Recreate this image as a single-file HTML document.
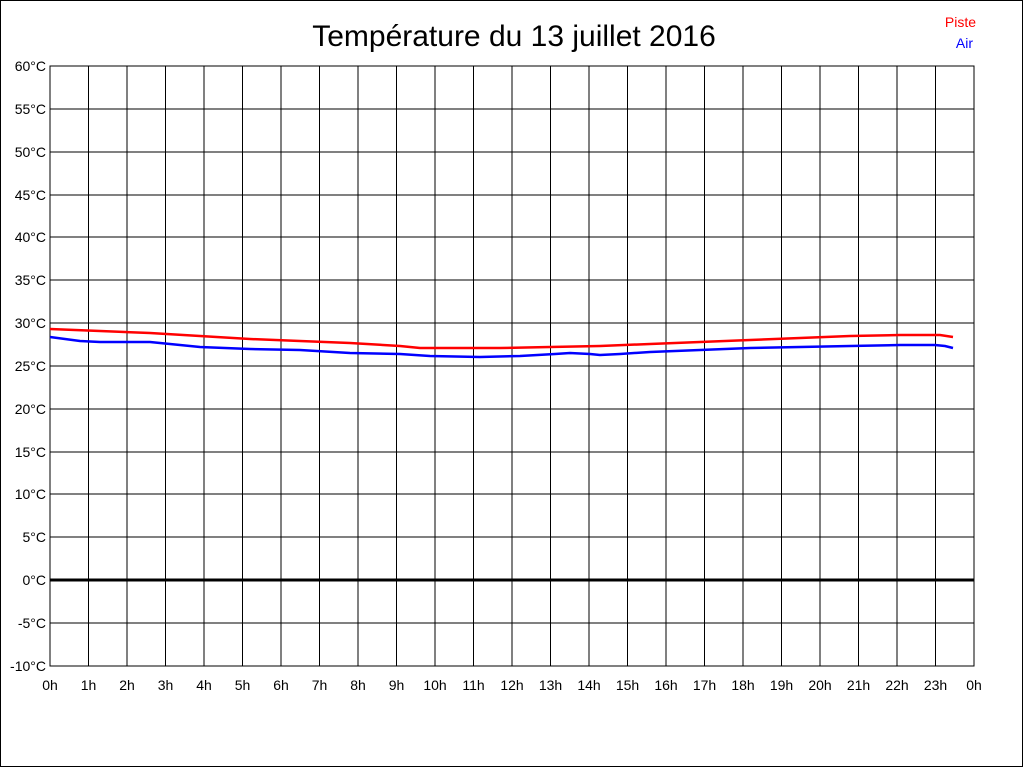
<!DOCTYPE html>
<html><head><meta charset="utf-8"><style>html,body{margin:0;padding:0;background:#fff}svg{display:block}text{font-family:"Liberation Sans",sans-serif}</style></head><body>
<svg width="1024" height="768" viewBox="0 0 1024 768" xmlns="http://www.w3.org/2000/svg">
<rect x="0.5" y="0.5" width="1022" height="766" fill="#fff" stroke="#000"/>
<text x="514" y="46" font-size="30" text-anchor="middle">Température du 13 juillet 2016</text>
<text x="976" y="27" font-size="14" fill="#f00" text-anchor="end">Piste</text>
<text x="973" y="48" font-size="14" fill="#00f" text-anchor="end">Air</text>
<g stroke="#000" stroke-width="1" shape-rendering="crispEdges">
<rect x="50" y="66" width="924" height="600" fill="none"/>
<path d="M88.5 66V666M127 66V666M165.5 66V666M204 66V666M242.5 66V666M281 66V666M319.5 66V666M358 66V666M396.5 66V666M435 66V666M473.5 66V666M512 66V666M550.5 66V666M589 66V666M627.5 66V666M666 66V666M704.5 66V666M743 66V666M781.5 66V666M820 66V666M858.5 66V666M897 66V666M935.5 66V666"/>
<path d="M50 109H974M50 152H974M50 195H974M50 237H974M50 280H974M50 323H974M50 366H974M50 409H974M50 452H974M50 494H974M50 537H974M50 623H974"/>
</g>
<path d="M50 580H974" stroke="#000" stroke-width="3"/>
<g font-size="14" text-anchor="end" fill="#000">
<text x="46" y="71">60°C</text><text x="46" y="114">55°C</text><text x="46" y="157">50°C</text><text x="46" y="200">45°C</text><text x="46" y="242">40°C</text><text x="46" y="285">35°C</text><text x="46" y="328">30°C</text><text x="46" y="371">25°C</text><text x="46" y="414">20°C</text><text x="46" y="457">15°C</text><text x="46" y="499">10°C</text><text x="46" y="542">5°C</text><text x="46" y="585">0°C</text><text x="46" y="628">-5°C</text><text x="46" y="671">-10°C</text>
</g>
<g font-size="14" text-anchor="middle" fill="#000">
<text x="50" y="690">0h</text><text x="88.5" y="690">1h</text><text x="127" y="690">2h</text><text x="165.5" y="690">3h</text><text x="204" y="690">4h</text><text x="242.5" y="690">5h</text><text x="281" y="690">6h</text><text x="319.5" y="690">7h</text><text x="358" y="690">8h</text><text x="396.5" y="690">9h</text><text x="435" y="690">10h</text><text x="473.5" y="690">11h</text><text x="512" y="690">12h</text><text x="550.5" y="690">13h</text><text x="589" y="690">14h</text><text x="627.5" y="690">15h</text><text x="666" y="690">16h</text><text x="704.5" y="690">17h</text><text x="743" y="690">18h</text><text x="781.5" y="690">19h</text><text x="820" y="690">20h</text><text x="858.5" y="690">21h</text><text x="897" y="690">22h</text><text x="935.5" y="690">23h</text><text x="974" y="690">0h</text>
</g>
<polyline fill="none" stroke="#f00" stroke-width="2.5" points="50,329 100,331 150,333 200,336 250,339 300,341 350,343 400,346 420,348 500,348 550,347 600,346 650,344 700,342 750,340 800,338 850,336 900,335 940,335 953,337"/>
<polyline fill="none" stroke="#00f" stroke-width="2.5" points="50,337 80,341 100,342 125,342 150,342 200,347 250,349 300,350 350,353 400,354 430,356 480,357 520,356 555,354 570,353 590,354 600,355 620,354 650,352 700,350 750,348 800,347 850,346 900,345 935,345 945,346 953,348"/>
</svg>
</body></html>
